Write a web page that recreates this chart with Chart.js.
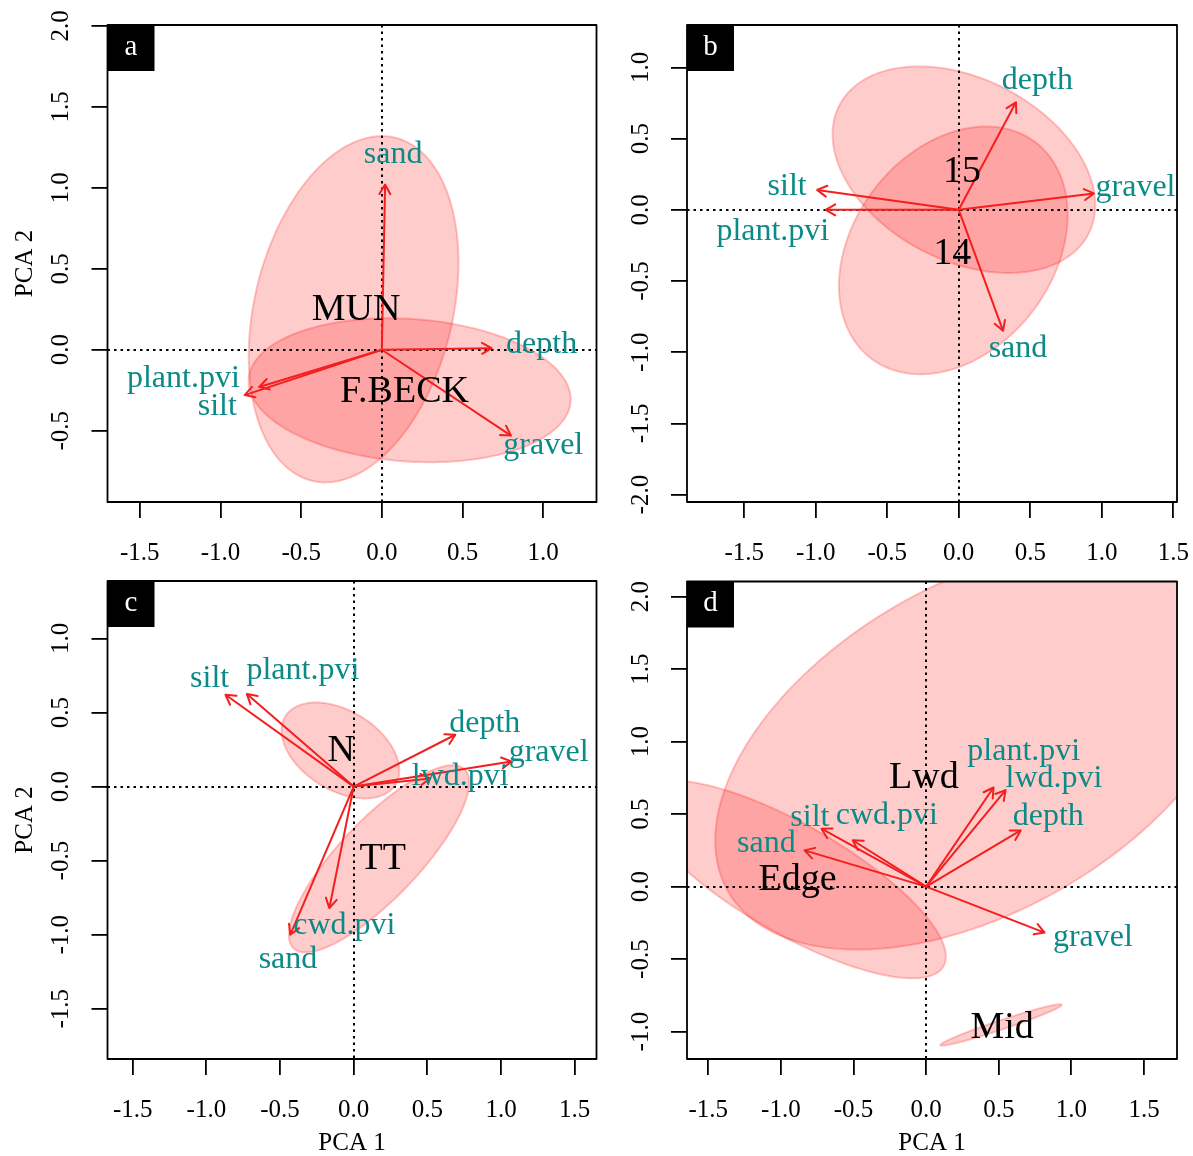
<!DOCTYPE html>
<html>
<head>
<meta charset="utf-8">
<script src="https://cdn.jsdelivr.net/npm/chart.js@4.4.1/dist/chart.umd.min.js"></script>
<style>
  html,body{margin:0;padding:0;background:#fff;}
  body{width:1193px;height:1156px;position:relative;overflow:hidden;}
  .pan{position:absolute;}
  canvas{display:block;}
</style>
</head>
<body>
<div class="pan" style="left:0;top:0;"><canvas id="cA" width="600" height="580"></canvas></div>
<div class="pan" style="left:600px;top:0;"><canvas id="cB" width="593" height="580"></canvas></div>
<div class="pan" style="left:0;top:560px;"><canvas id="cC" width="600" height="596"></canvas></div>
<div class="pan" style="left:600px;top:560px;"><canvas id="cD" width="593" height="596"></canvas></div>
<script>
// ---------------- DATA ----------------
// Panel a
const aXTicks = [-1.5, -1.0, -0.5, 0.0, 0.5, 1.0];
const aYTicks = [-0.5, 0.0, 0.5, 1.0, 1.5, 2.0];
const aXLim = [-1.70, 1.33];
const aYLim = [-0.94, 2.005];
const aVarNames = ['sand', 'depth', 'gravel', 'plant.pvi', 'silt'];
const aVarX = [0.02, 0.68, 0.80, -0.76, -0.85];
const aVarY = [1.02, 0.01, -0.53, -0.23, -0.28];
const aLabX = [0.07, 0.99, 1.00, -1.23, -1.02];
const aLabY = [1.205, 0.03, -0.59, -0.18, -0.35];
const aGrpNames = ['MUN', 'F.BECK'];
const aGrpX = [-0.16, 0.14];
const aGrpY = [0.245, -0.26];
const aEllCX = [-0.175, 0.172];
const aEllCY = [0.25, -0.25];
const aEllA = [1.09, 1.00];
const aEllB = [0.614, 0.44];
const aEllAng = [76.3, -4];

// Panel b
const bXTicks = [-1.5, -1.0, -0.5, 0.0, 0.5, 1.0, 1.5];
const bYTicks = [-2.0, -1.5, -1.0, -0.5, 0.0, 0.5, 1.0];
const bXLim = [-1.90, 1.526];
const bYLim = [-2.052, 1.298];
const bVarNames = ['depth', 'gravel', 'silt', 'plant.pvi', 'sand'];
const bVarX = [0.40, 0.945, -0.99, -0.93, 0.31];
const bVarY = [0.755, 0.115, 0.14, 0.0, -0.85];
const bLabX = [0.55, 1.236, -1.20, -1.30, 0.414];
const bLabY = [0.91, 0.153, 0.163, -0.15, -0.977];
const bGrpNames = ['15', '14'];
const bGrpX = [0.022, -0.045];
const bGrpY = [0.265, -0.31];
const bEllCX = [0.036, -0.038];
const bEllCY = [0.282, -0.285];
const bEllA = [0.981, 0.952];
const bEllB = [0.638, 0.70];
const bEllAng = [-27.6, 53.2];

// Panel c
const cXTicks = [-1.5, -1.0, -0.5, 0.0, 0.5, 1.0, 1.5];
const cYTicks = [-1.5, -1.0, -0.5, 0.0, 0.5, 1.0];
const cXLim = [-1.671, 1.648];
const cYLim = [-1.839, 1.388];
const cVarNames = ['silt', 'plant.pvi', 'depth', 'gravel', 'lwd.pvi', 'cwd.pvi', 'sand'];
const cVarX = [-0.87, -0.725, 0.69, 1.07, 0.52, -0.165, -0.43];
const cVarY = [0.62, 0.625, 0.35, 0.17, 0.055, -0.82, -1.0];
const cLabX = [-0.978, -0.345, 0.89, 1.323, 0.723, -0.063, -0.446];
const cLabY = [0.731, 0.783, 0.422, 0.228, 0.07, -0.94, -1.166];
const cGrpNames = ['N', 'TT'];
const cGrpX = [-0.084, 0.197];
const cGrpY = [0.238, -0.492];
const cEllCX = [-0.09, 0.172];
const cEllCY = [0.244, -0.4875];
const cEllA = [0.439, 0.838];
const cEllB = [0.268, 0.267];
const cEllAng = [-31.5, 46.1];

// Panel d
const dXTicks = [-1.5, -1.0, -0.5, 0.0, 0.5, 1.0, 1.5];
const dYTicks = [-1.0, -0.5, 0.0, 0.5, 1.0, 1.5, 2.0];
const dXLim = [-1.646, 1.727];
const dYLim = [-1.189, 2.105];
const dVarNames = ['plant.pvi', 'lwd.pvi', 'depth', 'gravel', 'silt', 'cwd.pvi', 'sand'];
const dVarX = [0.464, 0.547, 0.651, 0.815, -0.72, -0.505, -0.837];
const dVarY = [0.684, 0.666, 0.388, -0.317, 0.40, 0.32, 0.25];
const dLabX = [0.672, 0.88, 0.841, 1.148, -0.80, -0.27, -1.10];
const dLabY = [0.933, 0.742, 0.48, -0.351, 0.475, 0.49, 0.30];
const dGrpNames = ['Lwd', 'Edge', 'Mid'];
const dGrpX = [-0.015, -0.885, 0.523];
const dGrpY = [0.75, 0.046, -0.972];
const dEllCX = [0.37, -0.92, 0.516];
const dEllCY = [0.965, 0.05, -0.954];
const dEllA = [2.00, 1.20, 0.44];
const dEllB = [1.13, 0.375, 0.032];
const dEllAng = [30, -30, 18.5];

// ---------------- STYLE ----------------
const SERIF = '"Liberation Serif", "Times New Roman", "DejaVu Serif", serif';
const TEAL = '#0b8a87';
const RED = '#f41e1e';
const FILL = 'rgba(255,0,0,0.2)';
const EDGE = 'rgba(255,0,0,0.22)';

function fmt(v){ return v.toFixed(1); }

function makePanel(id, P){
  const canvas = document.getElementById(id);
  const datasets = P.varX.map((vx, i) => ({
    label: P.varNames[i],
    data: [{x: 0, y: 0}, {x: vx, y: P.varY[i]}],
    showLine: true,
    borderColor: RED,
    borderWidth: 2,
    pointRadius: 0,
    fill: false
  }));

  const biplot = {
    id: 'biplot_' + id,
    beforeDatasetsDraw(chart){
      const ctx = chart.ctx, ca = chart.chartArea;
      const xs = chart.scales.x, ys = chart.scales.y;
      ctx.save();
      ctx.beginPath();
      ctx.rect(ca.left, ca.top, ca.right - ca.left, ca.bottom - ca.top);
      ctx.clip();
      // ellipses
      for (let k = 0; k < P.ellCX.length; k++){
        const phi = P.ellAng[k] * Math.PI / 180;
        const cp = Math.cos(phi), sp = Math.sin(phi);
        ctx.beginPath();
        const N = 200;
        for (let i = 0; i <= N; i++){
          const t = i / N * 2 * Math.PI;
          const ex = P.ellCX[k] + P.ellA[k] * cp * Math.cos(t) - P.ellB[k] * sp * Math.sin(t);
          const ey = P.ellCY[k] + P.ellA[k] * sp * Math.cos(t) + P.ellB[k] * cp * Math.sin(t);
          const px = xs.getPixelForValue(ex), py = ys.getPixelForValue(ey);
          if (i === 0) ctx.moveTo(px, py); else ctx.lineTo(px, py);
        }
        ctx.closePath();
        ctx.fillStyle = FILL;
        ctx.fill();
        ctx.strokeStyle = EDGE;
        ctx.lineWidth = 2;
        ctx.stroke();
      }
      // zero reference lines
      const x0 = Math.round(xs.getPixelForValue(0)), y0 = Math.round(ys.getPixelForValue(0));
      ctx.strokeStyle = '#000';
      ctx.lineWidth = 2;
      ctx.setLineDash([2.5, 4]);
      ctx.beginPath();
      ctx.moveTo(x0, ca.top); ctx.lineTo(x0, ca.bottom);
      ctx.stroke();
      ctx.beginPath();
      ctx.moveTo(ca.left, y0); ctx.lineTo(ca.right, y0);
      ctx.stroke();
      ctx.setLineDash([]);
      ctx.restore();
    },
    afterDatasetsDraw(chart){
      const ctx = chart.ctx, ca = chart.chartArea;
      const xs = chart.scales.x, ys = chart.scales.y;
      ctx.save();
      // arrow heads
      ctx.strokeStyle = RED;
      ctx.lineWidth = 2;
      ctx.lineCap = 'round';
      ctx.lineJoin = 'round';
      const x0 = xs.getPixelForValue(0), y0 = ys.getPixelForValue(0);
      for (let i = 0; i < P.varX.length; i++){
        const tx = xs.getPixelForValue(P.varX[i]), ty = ys.getPixelForValue(P.varY[i]);
        const th = Math.atan2(ty - y0, tx - x0);
        const L = 11, w = Math.PI / 6;
        ctx.beginPath();
        ctx.moveTo(tx - L * Math.cos(th - w), ty - L * Math.sin(th - w));
        ctx.lineTo(tx, ty);
        ctx.lineTo(tx - L * Math.cos(th + w), ty - L * Math.sin(th + w));
        ctx.stroke();
      }
      // variable labels
      ctx.fillStyle = TEAL;
      ctx.font = '32px ' + SERIF;
      ctx.textAlign = 'center';
      ctx.textBaseline = 'middle';
      for (let i = 0; i < P.varNames.length; i++){
        ctx.fillText(P.varNames[i], xs.getPixelForValue(P.labX[i]), ys.getPixelForValue(P.labY[i]));
      }
      // group labels
      ctx.fillStyle = '#000';
      ctx.font = '38px ' + SERIF;
      for (let i = 0; i < P.grpNames.length; i++){
        ctx.fillText(P.grpNames[i], xs.getPixelForValue(P.grpX[i]), ys.getPixelForValue(P.grpY[i]));
      }
      // frame
      ctx.strokeStyle = '#000';
      ctx.lineWidth = 1.8;
      ctx.strokeRect(ca.left, ca.top, ca.right - ca.left, ca.bottom - ca.top);
      // panel letter
      ctx.fillStyle = '#000';
      ctx.fillRect(ca.left, ca.top, 47, 46);
      ctx.fillStyle = '#fff';
      ctx.font = '29px ' + SERIF;
      ctx.fillText(P.letter, ca.left + 23.5, ca.top + 22);
      // tick labels
      ctx.fillStyle = '#000';
      ctx.font = '25px ' + SERIF;
      for (const v of P.xTicks){
        ctx.fillText(fmt(v), xs.getPixelForValue(v), ca.bottom + 51);
      }
      for (const v of P.yTicks){
        ctx.save();
        ctx.translate(ca.left - 46, ys.getPixelForValue(v));
        ctx.rotate(-Math.PI / 2);
        ctx.fillText(fmt(v), 0, 0);
        ctx.restore();
      }
      // axis titles
      if (P.yTitle){
        ctx.save();
        ctx.translate(ca.left - 82, (ca.top + ca.bottom) / 2);
        ctx.rotate(-Math.PI / 2);
        ctx.fillText(P.yTitle, 0, 0);
        ctx.restore();
      }
      if (P.xTitle){
        ctx.fillText(P.xTitle, (ca.left + ca.right) / 2, ca.bottom + 84);
      }
      ctx.restore();
    }
  };

  const tickGrid = {display: true, drawOnChartArea: false, drawTicks: true, tickLength: 16, color: '#000', lineWidth: 1.8};

  return new Chart(canvas, {
    type: 'scatter',
    data: {datasets},
    options: {
      responsive: false,
      animation: false,
      events: [],
      layout: {padding: {left: 0, top: P.padTop, right: P.padRight, bottom: 0}},
      plugins: {legend: {display: false}, tooltip: {enabled: false}, title: {display: false}},
      scales: {
        x: {
          type: 'linear', position: 'bottom',
          min: P.xLim[0], max: P.xLim[1],
          afterBuildTicks: s => { s.ticks = P.xTicks.map(v => ({value: v})); },
          afterFit: s => { s.height = P.xAxisH; s.paddingLeft = 0; s.paddingRight = 0; },
          grid: tickGrid,
          border: {display: false},
          ticks: {display: false}
        },
        y: {
          type: 'linear', position: 'left',
          min: P.yLim[0], max: P.yLim[1],
          afterBuildTicks: s => { s.ticks = P.yTicks.map(v => ({value: v})); },
          afterFit: s => { s.width = P.yAxisW; s.paddingTop = 0; s.paddingBottom = 0; },
          grid: tickGrid,
          border: {display: false},
          ticks: {display: false}
        }
      }
    },
    plugins: [biplot]
  });
}

makePanel('cA', {
  letter: 'a', xTicks: aXTicks, yTicks: aYTicks, xLim: aXLim, yLim: aYLim,
  varNames: aVarNames, varX: aVarX, varY: aVarY, labX: aLabX, labY: aLabY,
  grpNames: aGrpNames, grpX: aGrpX, grpY: aGrpY,
  ellCX: aEllCX, ellCY: aEllCY, ellA: aEllA, ellB: aEllB, ellAng: aEllAng,
  yTitle: 'PCA 2', xTitle: null,
  padTop: 25, padRight: 3.5, yAxisW: 107.5, xAxisH: 78
});
makePanel('cB', {
  letter: 'b', xTicks: bXTicks, yTicks: bYTicks, xLim: bXLim, yLim: bYLim,
  varNames: bVarNames, varX: bVarX, varY: bVarY, labX: bLabX, labY: bLabY,
  grpNames: bGrpNames, grpX: bGrpX, grpY: bGrpY,
  ellCX: bEllCX, ellCY: bEllCY, ellA: bEllA, ellB: bEllB, ellAng: bEllAng,
  yTitle: null, xTitle: null,
  padTop: 25, padRight: 16, yAxisW: 87, xAxisH: 78
});
makePanel('cC', {
  letter: 'c', xTicks: cXTicks, yTicks: cYTicks, xLim: cXLim, yLim: cYLim,
  varNames: cVarNames, varX: cVarX, varY: cVarY, labX: cLabX, labY: cLabY,
  grpNames: cGrpNames, grpX: cGrpX, grpY: cGrpY,
  ellCX: cEllCX, ellCY: cEllCY, ellA: cEllA, ellB: cEllB, ellAng: cEllAng,
  yTitle: 'PCA 2', xTitle: 'PCA 1',
  padTop: 21, padRight: 3.5, yAxisW: 107.5, xAxisH: 97
});
makePanel('cD', {
  letter: 'd', xTicks: dXTicks, yTicks: dYTicks, xLim: dXLim, yLim: dYLim,
  varNames: dVarNames, varX: dVarX, varY: dVarY, labX: dLabX, labY: dLabY,
  grpNames: dGrpNames, grpX: dGrpX, grpY: dGrpY,
  ellCX: dEllCX, ellCY: dEllCY, ellA: dEllA, ellB: dEllB, ellAng: dEllAng,
  yTitle: null, xTitle: 'PCA 1',
  padTop: 21.5, padRight: 16, yAxisW: 87, xAxisH: 97
});
</script>
</body>
</html>
